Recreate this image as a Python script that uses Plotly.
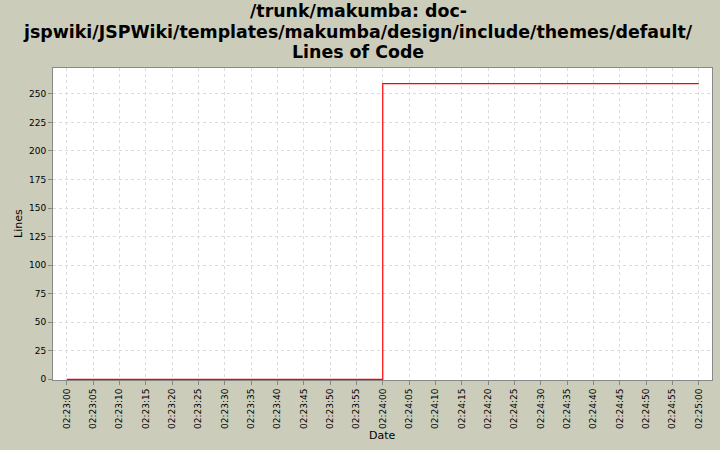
import plotly.graph_objects as go

# data
dates = ["2000-01-01 02:23:00", "2000-01-01 02:24:00", "2000-01-01 02:25:00"]
lines = [0, 259, 259]

title_lines = ["/trunk/makumba: doc-",
               "jspwiki/JSPWiki/templates/makumba/design/include/themes/default/",
               "Lines of Code"]

bg = "#CCCCBB"
grid = "#DCDCDC"
W, H = 720, 450
L, R, T, B = 53, 8, 68, 70
PW, PH = W - L - R, H - T - B


def py(pix):
    # pixel row from the top -> paper y
    return (H - B - pix) / PH


def px(pix):
    return (pix - L) / PW


fig = go.Figure(go.Scatter(x=dates, y=lines, mode="lines", line_shape="hv",
                           line=dict(color="#FF0000", width=1.2),
                           hoverinfo="skip", showlegend=False))

fig.update_layout(
    width=W, height=H,
    paper_bgcolor=bg, plot_bgcolor="white",
    margin=dict(l=L, r=R, t=T, b=B, autoexpand=False),
    font=dict(family="DejaVu Sans", size=9, color="black"),
)

# title, one line per annotation
for txt, yc in zip(title_lines, [11, 32, 52.5]):
    fig.add_annotation(text="<b>" + txt + "</b>", xref="paper", yref="paper",
                       x=px(358), y=py(yc), xanchor="center", yanchor="middle",
                       showarrow=False, font=dict(size=17.4))

# axis titles
fig.add_annotation(text="Date", xref="paper", yref="paper", x=0.5,
                   y=py(435), yanchor="middle",
                   showarrow=False, font=dict(size=11))
fig.add_annotation(text="Lines", xref="paper", yref="paper",
                   x=px(18), xanchor="center",
                   y=0.5, yanchor="middle", textangle=-90,
                   showarrow=False, font=dict(size=11))

axis_style = dict(
    ticks="outside", ticklen=4, tickcolor="#888888",
    showgrid=True, gridcolor=grid, griddash="3px,3px", gridwidth=1,
    showline=True, linecolor="#888888", linewidth=1, mirror=True,
    zeroline=False, automargin=False, layer="below traces",
)
fig.update_xaxes(
    type="date", range=["2000-01-01 02:22:57.4", "2000-01-01 02:25:02.5"],
    tickformat="%H:%M:%S", dtick=5000, tick0="2000-01-01 02:23:00",
    tickangle=-90, **axis_style,
)
fig.update_yaxes(range=[-0.6, 272.7], tick0=0, dtick=25, **axis_style)

fig.write_html("out.html", config={"displayModeBar": False},
               post_script="document.body.style.margin='0';")
